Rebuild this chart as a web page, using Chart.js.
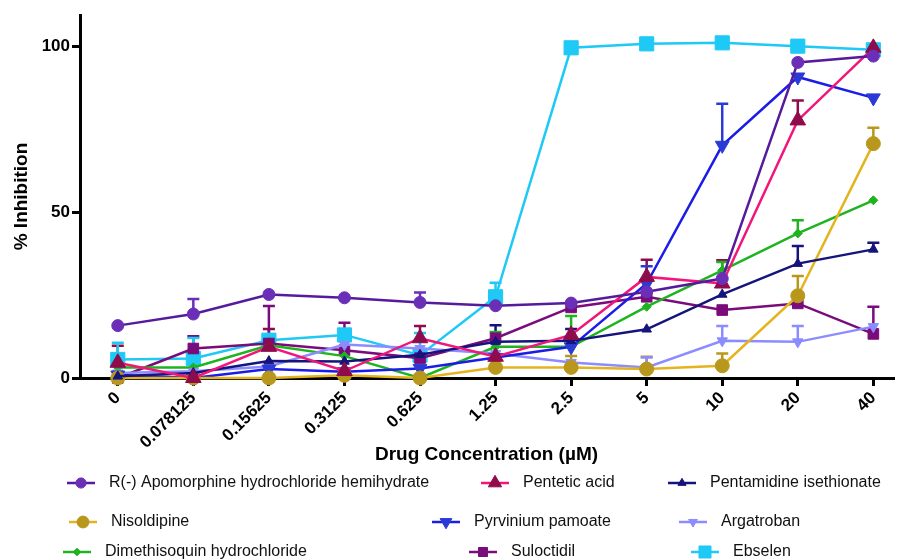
<!DOCTYPE html>
<html>
<head>
<meta charset="utf-8">
<script src="https://cdn.jsdelivr.net/npm/chart.js@4.4.1/dist/chart.umd.min.js"></script>
<style>
  html, body { margin: 0; padding: 0; background: #fff; }
  #wrap { width: 904px; height: 559px; position: relative; }
</style>
</head>
<body>
<div id="wrap"><canvas id="chart"></canvas></div>
<script>
// valores (% inibição por concentração)
const concentrations = ['0', '0.078125', '0.15625', '0.3125', '0.625', '1.25', '2.5', '5', '10', '20', '40'];
const yTicks = [0, 50, 100];

const apomorphine = [15.8, 19.3, 25.2, 24.2, 22.8, 21.8, 22.6, 26.0, 30.0, 95.2, 97.1];
const apomorphineErr = [0, 4.5, 0, 0, 3, 0, 0, 0, 0, 0, 0];
const pentetic = [4.6, 0, 9.4, 2.1, 12.0, 6.4, 13.0, 30.5, 28.5, 77.7, 99.6];
const penteticErr = [5.1, 0, 5.4, 0, 3.7, 0, 0, 5.2, 7.0, 6.0, 0];
const pentamidine = [0.5, 1.5, 5.1, 5.0, 7.0, 10.9, 11.2, 14.7, 25.2, 34.5, 38.8];
const pentamidineErr = [0, 0, 0, 0, 0, 5, 3.6, 0, 0, 5.3, 2];
const nisoldipine = [0, 0, 0, 0.8, 0, 3.2, 3.2, 2.7, 3.7, 24.8, 70.7];
const nisoldipineErr = [0, 0, 0, 0, 0, 0, 3.4, 3.7, 3.7, 6, 4.8];
const pyrvinium = [0.9, 0, 2.7, 1.9, 2.9, 6.2, 9.4, 28.5, 70.2, 90.8, 84.5];
const pyrviniumErr = [0, 0, 0, 0, 0, 0, 0, 5.2, 12.5, 0, 0];
const argatroban = [1.5, 2, 3.5, 10.1, 8.9, 7.4, 4.7, 3.2, 11.2, 10.9, 15.5];
const argatrobanErr = [0, 0, 0, 0, 0, 0, 0, 3, 4.5, 4.8, 0];
const dimethisoquin = [3.2, 3.2, 9.9, 6.6, 0, 9.4, 9.4, 21.5, 32.5, 43.6, 53.6];
const dimethisoquinErr = [0, 0, 0, 0, 0, 4.5, 9.3, 0, 2.5, 4, 0];
const suloctidil = [0, 8.9, 10.4, 8.4, 6.0, 12.0, 21.3, 24.5, 20.5, 22.5, 13.3];
const suloctidilErr = [0, 3.7, 11.3, 8.3, 0, 0, 0, 0, 0, 0, 8.2];
const ebselen = [5.6, 5.9, 11.4, 13.0, 6.9, 24.5, 99.6, 100.8, 101.1, 100.1, 99.0];
const ebselenErr = [5, 6.2, 0, 0, 6.7, 4.2, 0, 0, 0, 0, 0];

const FONT = "'Liberation Sans', Arial, sans-serif";

function serie(label, values, errs, line, marker, style, radius, rotation, slot) {
    return {
        label: label,
        data: values.map(function (v, i) { return { x: i, y: v }; }),
        errors: errs,
        borderColor: line,
        backgroundColor: marker,
        pointBackgroundColor: marker,
        pointBorderColor: marker,
        pointBorderWidth: 1,
        pointStyle: style,
        pointRadius: radius,
        pointHoverRadius: radius,
        pointRotation: rotation,
        borderWidth: 2.5,
        tension: 0,
        clip: false,
        legendSlot: slot
    };
}

// posição de cada item da legenda (início da linha, y)
const datasets = [
    serie('R(-) Apomorphine hydrochloride hemihydrate', apomorphine, apomorphineErr, '#561a9c', '#6a2fb6', 'circle', 6, 0, [67, 483]),
    serie('Pentetic acid', pentetic, penteticErr, '#f2157a', '#8e0b4c', 'triangle', 9, 0, [481, 483]),
    serie('Pentamidine isethionate', pentamidine, pentamidineErr, '#14147c', '#14147c', 'triangle', 5.5, 0, [668, 483]),
    serie('Nisoldipine', nisoldipine, nisoldipineErr, '#e4b41f', '#b8971c', 'circle', 7, 0, [69, 522]),
    serie('Pyrvinium pamoate', pyrvinium, pyrviniumErr, '#1c1ce8', '#2b3ad4', 'triangle', 8, 180, [432, 522]),
    serie('Argatroban', argatroban, argatrobanErr, '#8c8cff', '#8c8cff', 'triangle', 6, 180, [679, 522]),
    serie('Dimethisoquin hydrochloride', dimethisoquin, dimethisoquinErr, '#1fb41f', '#1fb41f', 'rectRot', 4.5, 0, [63, 552]),
    serie('Suloctidil', suloctidil, suloctidilErr, '#7a0b7a', '#7a0b7a', 'rect', 7.5, 0, [469, 552]),
    serie('Ebselen', ebselen, ebselenErr, '#1fc9f5', '#1fc9f5', 'rect', 10, 0, [691, 552])
];

// barras de erro (só para cima, estilo Prism)
const errorBars = {
    id: 'errorBars',
    beforeDatasetsDraw: function (chart) {
        const ctx = chart.ctx;
        const ys = chart.scales.y;
        ctx.save();
        ctx.lineWidth = 2.5;
        chart.data.datasets.forEach(function (ds, i) {
            const meta = chart.getDatasetMeta(i);
            ctx.strokeStyle = ds.pointBackgroundColor;
            ds.errors.forEach(function (e, j) {
                if (!e) return;
                const p = meta.data[j];
                const top = ys.getPixelForValue(ds.data[j].y + e);
                ctx.beginPath();
                ctx.moveTo(p.x, p.y);
                ctx.lineTo(p.x, top);
                ctx.moveTo(p.x - 6, top);
                ctx.lineTo(p.x + 6, top);
                ctx.stroke();
            });
        });
        ctx.restore();
    }
};

// legenda desenhada à mão, layout irregular como no original
const freeLegend = {
    id: 'freeLegend',
    afterDraw: function (chart) {
        const ctx = chart.ctx;
        ctx.save();
        chart.data.datasets.forEach(function (ds) {
            const x = ds.legendSlot[0], y = ds.legendSlot[1];
            ctx.strokeStyle = ds.borderColor;
            ctx.lineWidth = 2.5;
            ctx.beginPath();
            ctx.moveTo(x, y);
            ctx.lineTo(x + 28, y);
            ctx.stroke();
            ctx.fillStyle = ds.pointBackgroundColor;
            ctx.strokeStyle = ds.pointBorderColor;
            ctx.lineWidth = 1;
            Chart.helpers.drawPoint(ctx, {
                pointStyle: ds.pointStyle,
                radius: ds.pointRadius * 0.85,
                rotation: ds.pointRotation,
                borderWidth: 1
            }, x + 14, y);
            ctx.fillStyle = '#111';
            ctx.font = '16px ' + FONT;
            ctx.textBaseline = 'middle';
            ctx.fillText(ds.label, x + 42, y);
        });
        ctx.restore();
    }
};

new Chart(document.getElementById('chart'), {
    type: 'line',
    data: { datasets: datasets },
    plugins: [errorBars, freeLegend],
    options: {
        responsive: true,
        maintainAspectRatio: false,
        animation: false,
        layout: { padding: { top: 15, right: 0, bottom: 0, left: 0 } },
        plugins: {
            legend: { display: false },
            tooltip: { enabled: false }
        },
        scales: {
            x: {
                type: 'linear',
                min: -0.5,
                max: 10.26,
                afterFit: function (s) { s.height = 181; },
                afterBuildTicks: function (s) {
                    s.ticks = concentrations.map(function (c, i) { return { value: i }; });
                },
                ticks: {
                    callback: function (v) { return concentrations[v]; },
                    minRotation: 45,
                    maxRotation: 45,
                    autoSkip: false,
                    padding: 2,
                    color: '#000',
                    font: { family: FONT, size: 17, weight: 'bold' }
                },
                grid: { drawOnChartArea: false, color: '#000', lineWidth: 3, tickLength: 8 },
                border: { color: '#000', width: 3 },
                title: {
                    display: true,
                    text: 'Drug Concentration (\u00b5M)',
                    color: '#000',
                    font: { family: FONT, size: 19, weight: 'bold' },
                    padding: { top: 0, bottom: 93 }
                }
            },
            y: {
                min: 0,
                max: 109.5,
                afterFit: function (s) { s.width = 80; },
                afterBuildTicks: function (s) {
                    s.ticks = yTicks.map(function (v) { return { value: v }; });
                },
                ticks: {
                    padding: 2,
                    color: '#000',
                    font: { family: FONT, size: 17, weight: 'bold' }
                },
                grid: { drawOnChartArea: false, color: '#000', lineWidth: 3, tickLength: 8 },
                border: { color: '#000', width: 3 },
                title: {
                    display: true,
                    text: '% Inhibition',
                    color: '#000',
                    font: { family: FONT, size: 19, weight: 'bold' },
                    padding: { top: 10, bottom: 0 }
                }
            }
        }
    }
});
</script>
</body>
</html>
